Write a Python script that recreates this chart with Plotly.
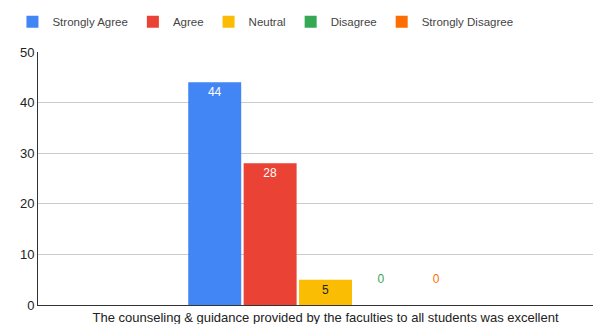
import plotly.graph_objects as go

category = ["The counseling & guidance provided by the faculties to all students was excellent"]
series_names = ["Strongly Agree", "Agree", "Neutral", "Disagree", "Strongly Disagree"]
series_values = [44, 28, 5, 0, 0]
colors = ["#4285F4", "#EA4335", "#FBBC04", "#34A853", "#FF6D01"]
label_colors = ["#FFFFFF", "#FFFFFF", "#222222", "#34A853", "#FF6D01"]
y_ticks = [0, 10, 20, 30, 40, 50]

FONT = "Liberation Sans, Arial, sans-serif"

fig = go.Figure()
for name, val, col, lc in zip(series_names, series_values, colors, label_colors):
    inside = val > 0
    fig.add_trace(go.Bar(
        x=category, y=[val], name=name,
        marker=dict(color=col, line=dict(width=0)),
        text=[str(val) if inside else f"{val}<br> "],
        texttemplate="%{text}",
        textposition="inside" if inside else "outside",
        insidetextanchor="end",
        textangle=0,
        constraintext="none",
        cliponaxis=False,
        textfont=dict(family=FONT, size=12, color=lc),
        insidetextfont=dict(family=FONT, size=12, color=lc),
        outsidetextfont=dict(family=FONT, size=12, color=lc),
        hoverinfo="skip",
    ))

fig.update_layout(
    width=593, height=316,
    margin=dict(l=30, r=0, t=44, b=19, autoexpand=False),
    paper_bgcolor="white", plot_bgcolor="white",
    barmode="group", bargap=0.508, bargroupgap=0.044,
    font=dict(family=FONT, size=12, color="#444444"),
    showlegend=True,
    legend=dict(orientation="h", x=0.404, xanchor="center", y=1.12, yanchor="middle",
                font=dict(family=FONT, size=11.5, color="#444444"),
                itemsizing="constant", traceorder="normal", itemclick=False,
                itemwidth=30),
    xaxis=dict(type="category", range=[-0.5107, 0.4893], showgrid=False,
               showline=True, linecolor="#333333", linewidth=1,
               ticks="", ticklabelstandoff=0, automargin=False,
               tickfont=dict(family=FONT, size=13, color="#222222"),
               fixedrange=True),
    yaxis=dict(range=[0, 50], tickvals=y_ticks, showgrid=True, gridcolor="#CCCCCC",
               gridwidth=1, showline=True, linecolor="#333333", linewidth=1,
               zeroline=False, ticks="", automargin=False,
               tickfont=dict(family=FONT, size=13, color="#222222"),
               fixedrange=True),
)

fig.write_html("out.html")
